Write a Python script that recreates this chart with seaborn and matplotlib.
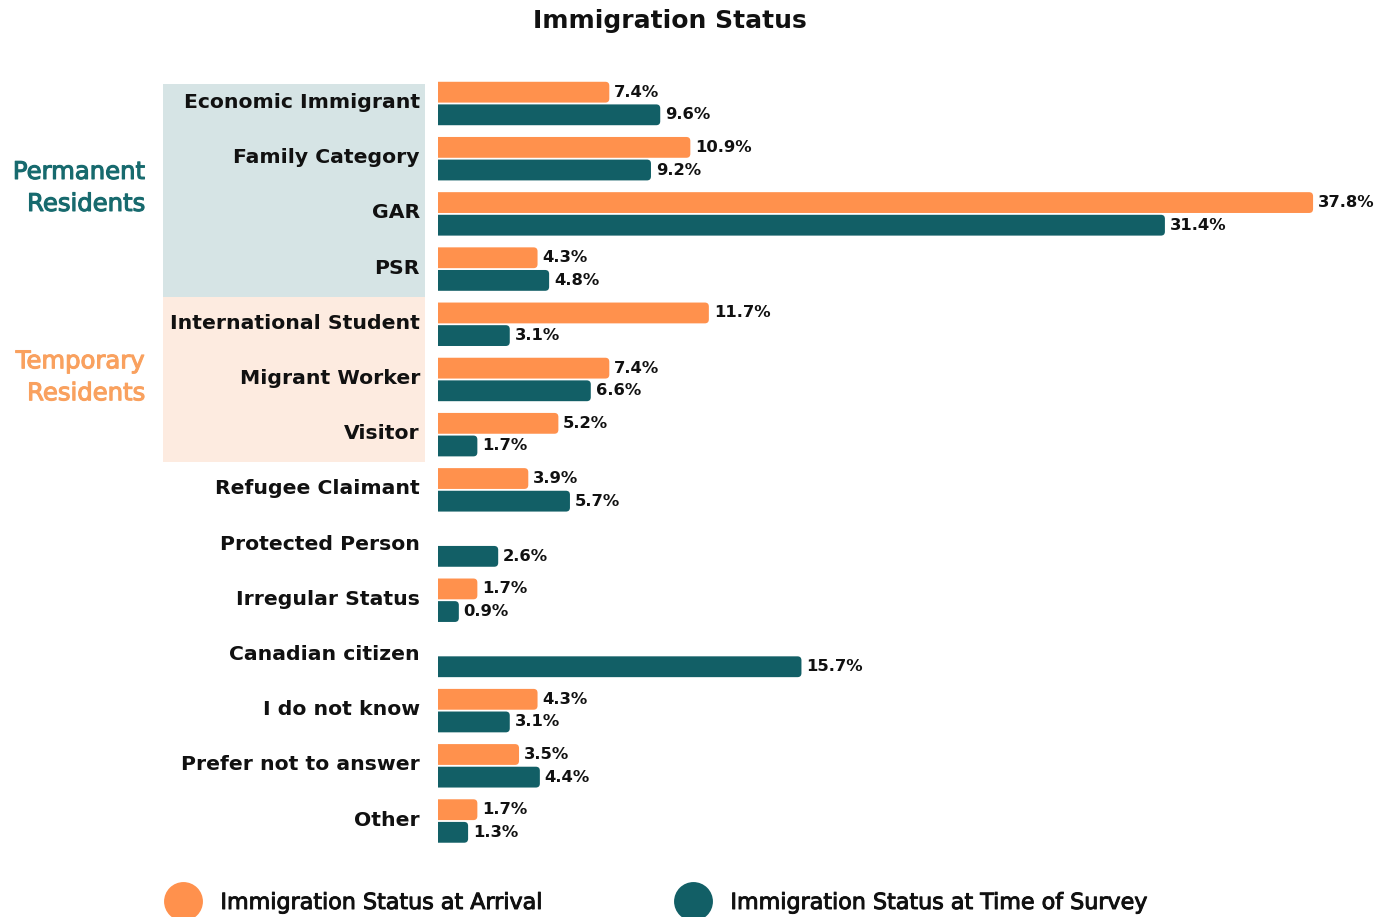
import numpy as np
import pandas as pd
import matplotlib
matplotlib.use("Agg")
import matplotlib.pyplot as plt
import matplotlib.transforms as mtransforms
import matplotlib.patheffects as pe
from matplotlib.patches import FancyBboxPatch, Rectangle
from matplotlib.lines import Line2D
import seaborn as sns

# ---- data -------------------------------------------------------------
categories = [
    "Economic Immigrant", "Family Category", "GAR", "PSR",
    "International Student", "Migrant Worker", "Visitor",
    "Refugee Claimant", "Protected Person", "Irregular Status",
    "Canadian citizen", "I do not know", "Prefer not to answer", "Other",
]
at_arrival = [7.4, 10.9, 37.8, 4.3, 11.7, 7.4, 5.2, 3.9, np.nan, 1.7,
              np.nan, 4.3, 3.5, 1.7]
at_survey = [9.6, 9.2, 31.4, 4.8, 3.1, 6.6, 1.7, 5.7, 2.6, 0.9,
             15.7, 3.1, 4.4, 1.3]
series_names = ["Immigration Status at Arrival",
                "Immigration Status at Time of Survey"]

ORANGE = "#FF914D"
TEAL = "#125F66"
PERM_BG = "#D6E4E5"
TEMP_BG = "#FDEBE0"
INK = "#111111"

df = pd.DataFrame({
    "category": categories * 2,
    "value": at_arrival + at_survey,
    "series": [series_names[0]] * len(categories) + [series_names[1]] * len(categories),
})

sns.set_theme(style="white")
plt.rcParams["font.family"] = ["DejaVu Sans"]

W, H = 1386, 917
fig = plt.figure(figsize=(W / 100, H / 100), dpi=100)
ax = fig.add_axes([438 / W, 1 - 848.6 / H, (W - 438) / W, 772.7 / H])
ax.patch.set_alpha(0)

sns.barplot(data=df, y="category", x="value", hue="series", order=categories,
            hue_order=series_names, palette=[ORANGE, TEAL], orient="h",
            width=0.82, gap=0.08, saturation=1, legend=False, ax=ax)

ax.set_xlim(0, (W - 438) / 23.15)
ax.set_ylim(len(categories) - 0.5, -0.5)
ax.set_xlabel("")
ax.set_ylabel("")
ax.set_xticks([])
for s in ax.spines.values():
    s.set_visible(False)
ax.tick_params(axis="y", length=0, pad=13)
lift = mtransforms.ScaledTranslation(0, 3 / 100, fig.dpi_scale_trans)
for lbl in ax.get_yticklabels():
    lbl.set_fontsize(14.7)
    lbl.set_fontweight("bold")
    lbl.set_color(INK)
    lbl.set_transform(lbl.get_transform() + lift)

# value labels
for cont in ax.containers:
    ax.bar_label(cont, fmt="%.1f%%", padding=3.5, fontsize=11.8,
                 fontweight="bold", color=INK)

# rounded right ends on bars
rx = 4 / 23.15
aspect = (4 / 55.2) / rx
for p in list(ax.patches):
    if not isinstance(p, Rectangle):
        continue
    x0, y0 = p.get_x(), p.get_y()
    w, h = p.get_width(), p.get_height()
    if not np.isfinite(w) or w == 0:
        continue
    fb = FancyBboxPatch((x0 - 1.0, y0), w + 1.0, h,
                        boxstyle=f"round,pad=0,rounding_size={rx}",
                        mutation_aspect=aspect, facecolor=p.get_facecolor(),
                        edgecolor="none", zorder=p.get_zorder())
    p.set_visible(False)
    ax.add_patch(fb)
    fb.set_clip_path(ax.patch)

# group shading behind category labels
trans = mtransforms.blended_transform_factory(fig.transFigure, ax.transData)
fig.patches.append(Rectangle((163 / W, -0.36), (425 - 163) / W, 3.86,
                             transform=trans, facecolor=PERM_BG,
                             edgecolor="none", zorder=-5))
fig.patches.append(Rectangle((163 / W, 3.5), (425 - 163) / W, 3.0,
                             transform=trans, facecolor=TEMP_BG,
                             edgecolor="none", zorder=-5))

PERM_INK = "#176A6E"
TEMP_INK = "#F9A15F"
fig.text(145 / W, 1.53, "Permanent\nResidents", transform=trans,
         ha="right", va="center", fontsize=17.5, color=PERM_INK,
         linespacing=1.42,
         path_effects=[pe.withStroke(linewidth=0.8, foreground=PERM_INK)])
fig.text(145 / W, 4.96, "Temporary\nResidents", transform=trans,
         ha="right", va="center", fontsize=17.5, color=TEMP_INK,
         linespacing=1.42,
         path_effects=[pe.withStroke(linewidth=0.8, foreground=TEMP_INK)])

fig.text(670 / W, 1 - 21 / H, "Immigration Status", ha="center",
         va="center", fontsize=18, fontweight="bold", color=INK)

# legend: one entry per series
for name, color, x_left in zip(series_names, (ORANGE, TEAL), (166, 676)):
    handle = Line2D([], [], marker="o", linestyle="none", markersize=28,
                    markerfacecolor=color, markeredgecolor="none")
    leg = fig.legend([handle], [name], loc="center left",
                     bbox_to_anchor=(x_left / W, 1 - 903 / H), frameon=False,
                     fontsize=16, handletextpad=0.95, borderaxespad=0,
                     borderpad=0, handlelength=1.5)
    for t in leg.get_texts():
        t.set_color(INK)
        t.set_path_effects([pe.withStroke(linewidth=0.7, foreground=INK)])

fig.savefig("out.png", dpi=100)
